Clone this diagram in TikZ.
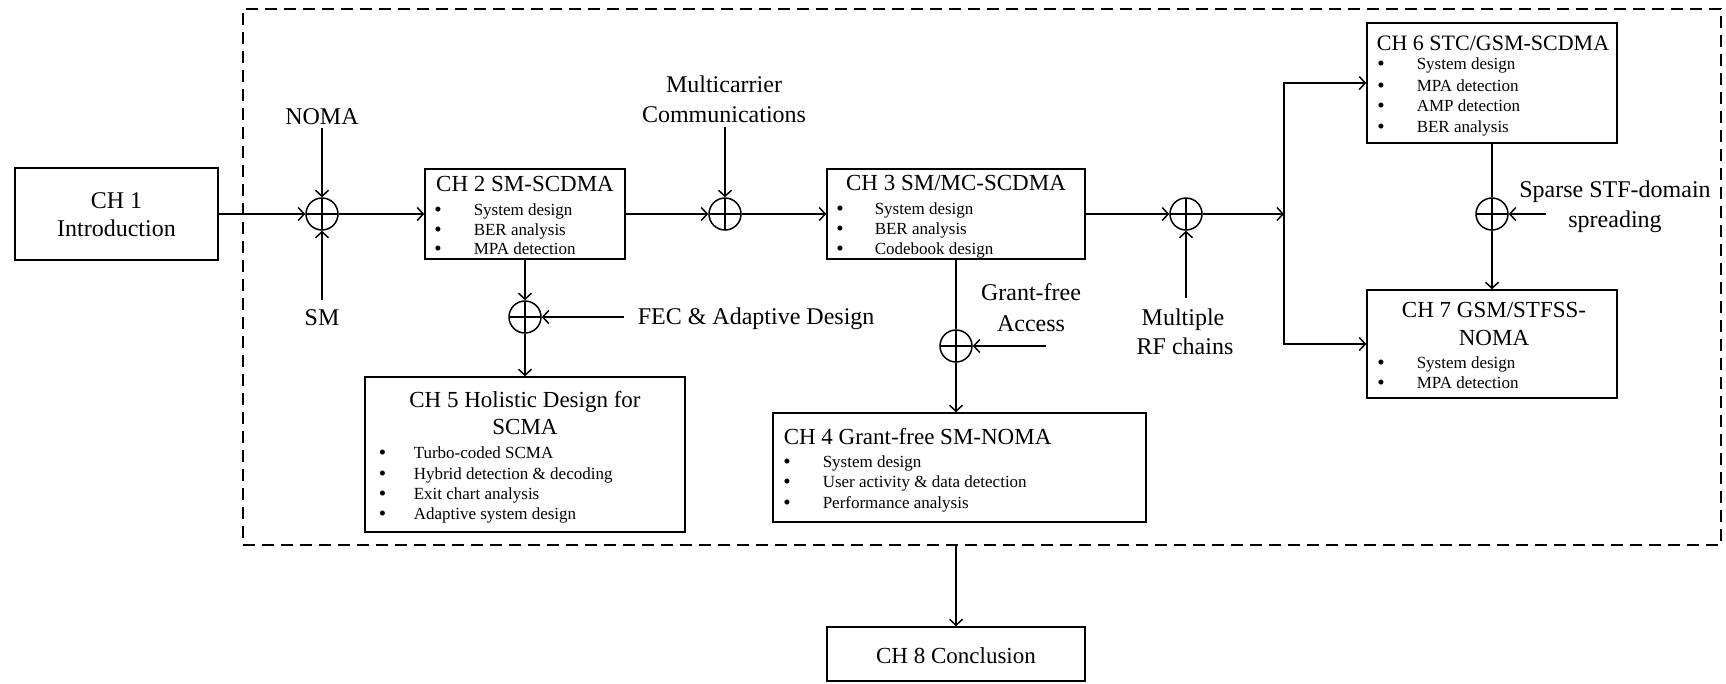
\documentclass[tikz,border=0pt]{standalone}
\usepackage{fontspec}
\setmainfont{Liberation Serif}
\usetikzlibrary{arrows.meta}
\newcommand\bitem[5]{\node[bul] (#1b) at (#2,#4+1) {\textbullet}; \node[itm] (#1t) at (#3,#4) {#5};}
\begin{document}
\begin{tikzpicture}[x=1pt,y=-1pt, line width=1.5pt,
  >={Straight Barb[length=6pt,width=13pt]},
  box/.style={draw, rectangle, inner sep=0pt, line width=1.5pt},
  sumnode/.style={draw, circle, minimum size=32pt, inner sep=0pt,
    path picture={\draw[line width=1.5pt] (path picture bounding box.north) -- (path picture bounding box.south)
      (path picture bounding box.west) -- (path picture bounding box.east);}},
  lbl/.style={font=\fontsize{24}{30}\selectfont, inner sep=0pt, anchor=base},
  ttl/.style={font=\fontsize{23}{27}\selectfont, inner sep=0pt, anchor=base},
  itm/.style={font=\fontsize{17}{20}\selectfont, inner sep=0pt, anchor=base west},
  bul/.style={font=\fontsize{21}{20}\selectfont, inner sep=0pt, anchor=base},
  frame/.style={draw, rectangle, line width=1.3pt, dash pattern=on 12pt off 7pt, inner sep=0pt}
]
\useasboundingbox (0,0) rectangle (1726,683);

% dashed frame
\node[frame, minimum width=1478pt, minimum height=536pt] (frm) at (982,277) {};

% boxes
\node[box, minimum width=203pt, minimum height=92pt] (ch1) at (116.5,214) {};
\node[box, minimum width=200pt, minimum height=90pt] (ch2) at (525,214) {};
\node[box, minimum width=258pt, minimum height=90pt] (ch3) at (956,214) {};
\node[box, minimum width=373pt, minimum height=109pt] (ch4) at (959.5,467.5) {};
\node[box, minimum width=320pt, minimum height=155pt] (ch5) at (525,454.5) {};
\node[box, minimum width=250pt, minimum height=120pt] (ch6) at (1492,83) {};
\node[box, minimum width=250pt, minimum height=108pt] (ch7) at (1492,344) {};
\node[box, minimum width=258pt, minimum height=54pt] (ch8) at (956,654) {};

% titles
\node[lbl] (ch1title) at (116.5,208) {CH 1};
\node[lbl] (ch1titleb) at (116.5,236) {Introduction};
\node[ttl] (ch2title) at (525,191.6) {CH 2 SM-SCDMA};
\node[ttl] (ch3title) at (956,190.6) {CH 3 SM/MC-SCDMA};
\node[ttl, anchor=base west] (ch4title) at (783,444.6) {CH 4 Grant-free SM-NOMA};
\node[ttl] (ch5title) at (525,407.6) {CH 5 Holistic Design for};
\node[ttl] (ch5titleb) at (525,434.6) {SCMA};
\node[ttl, font=\fontsize{22}{27}\selectfont] (ch6title) at (1493,50.6) {CH 6 STC/GSM-SCDMA};
\node[ttl] (ch7title) at (1494,317.6) {CH 7 GSM/STFSS-};
\node[ttl] (ch7titleb) at (1494,345.6) {NOMA};
\node[ttl] (ch8title) at (956,663.6) {CH 8 Conclusion};

% items
\bitem{ca}{438}{473}{215.5}{System design}
\bitem{cb}{438}{473}{235.2}{BER analysis}
\bitem{cc}{438}{473}{254.6}{MPA detection}
\bitem{da}{840}{874}{214.6}{System design}
\bitem{db}{840}{874}{234.6}{BER analysis}
\bitem{dc}{840}{874}{254.6}{Codebook design}
\bitem{ea}{787}{822}{467.6}{System design}
\bitem{eb}{787}{822}{487.8}{User activity \& data detection}
\bitem{ec}{787}{822}{508.6}{Performance analysis}
\bitem{fa}{382.5}{413}{458.6}{Turbo-coded SCMA}
\bitem{fb}{382.5}{413}{479.6}{Hybrid detection \& decoding}
\bitem{fc}{382.5}{413}{499.6}{Exit chart analysis}
\bitem{fd}{382.5}{413}{519.6}{Adaptive system design}
\bitem{ga}{1381}{1416}{69.9}{System design}
\bitem{gb}{1381}{1416}{91.3}{MPA detection}
\bitem{gc}{1381}{1416}{111.6}{AMP detection}
\bitem{gd}{1381}{1416}{132.3}{BER analysis}
\bitem{ha}{1381}{1416}{368.6}{System design}
\bitem{hb}{1381}{1416}{388.6}{MPA detection}

% sum nodes
\node[sumnode] (s1) at (322,214) {};
\node[sumnode] (s2) at (525,317) {};
\node[sumnode] (s3) at (725,214) {};
\node[sumnode] (s4) at (956,346) {};
\node[sumnode] (s5) at (1186,214) {};
\node[sumnode] (s6) at (1492,214) {};

% labels
\node[lbl] (noma) at (322,124.8) {NOMA};
\node[lbl] (sm) at (322,325.8) {SM};
\node[lbl] (mca) at (724,92.8) {Multicarrier};
\node[lbl] (mcb) at (724,122.8) {Communications};
\node[lbl, anchor=base west] (fec) at (637,324.8) {FEC \& Adaptive Design};
\node[lbl] (gfa) at (1031,300.8) {Grant-free};
\node[lbl] (gfb) at (1031,331.8) {Access};
\node[lbl] (rfa) at (1183,325.8) {Multiple};
\node[lbl] (rfb) at (1185,354.8) {RF chains};
\node[lbl] (spa) at (1615,197.8) {Sparse STF-domain};
\node[lbl] (spb) at (1615,227.8) {spreading};

% free ends
\coordinate (cnoma) at (322,128);
\coordinate (csm) at (322,300);
\coordinate (cmc) at (725,127);
\coordinate (cfec) at (624,317);
\coordinate (cgf) at (1046,346);
\coordinate (crf) at (1186,298);
\coordinate (csp) at (1546,214);
\coordinate (j) at (1284,214);

% connectors
\draw[->] (ch1.east) -- (s1.west);
\draw[->] (cnoma) -- (s1.north);
\draw[->] (csm) -- (s1.south);
\draw[->] (s1.east) -- (ch2.west);
\draw[->] (ch2.east) -- (s3.west);
\draw[->] (cmc) -- (s3.north);
\draw[->] (s3.east) -- (ch3.west);
\draw[->] (ch2.south) -- (s2.north);
\draw[->] (cfec) -- (s2.east);
\draw[->] (s2.south) -- (ch5.north);
\draw (ch3.south) -- (s4.north);
\draw[->] (cgf) -- (s4.east);
\draw[->] (s4.south) -- (s4.south |- ch4.north);
\draw[->] (ch3.east) -- (s5.west);
\draw[->] (crf) -- (s5.south);
\draw[->] (s5.east) -- (j);
\draw[->] (j) |- (ch6.west);
\draw[->] (j) |- (ch7.west);
\draw (ch6.south) -- (s6.north);
\draw[->] (csp) -- (s6.east);
\draw[->] (s6.south) -- (ch7.north);
\draw[->] (frm.south -| ch8.north) -- (ch8.north);
\end{tikzpicture}
\end{document}
